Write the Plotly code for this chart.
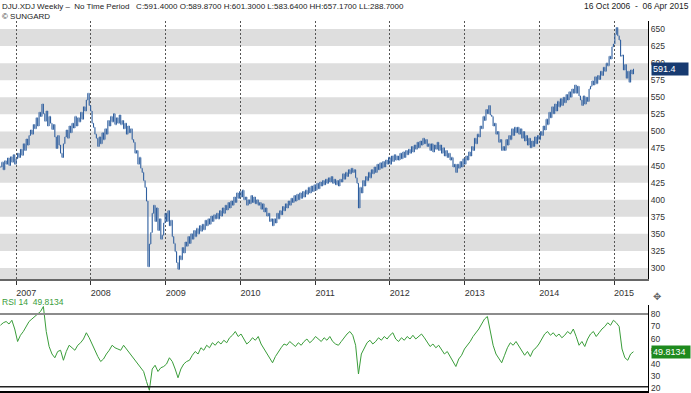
import plotly.graph_objects as go
import pandas as pd
import numpy as np

# ---- data ----
start_date = "2006-10-16"
# weekly closes
close = [
    448, 455, 444, 457, 452, 461, 450, 463, 455, 466, 452,
    460, 468, 462, 474, 465, 482, 472, 489, 480, 494,
    502, 496, 510, 504, 520, 508, 528, 522, 540, 526,
    515, 530, 508, 522, 512, 503, 510, 492, 475, 494,
    480, 468, 462, 482, 492, 502, 490, 508, 498, 512,
    505, 522, 508, 520, 514, 528, 518, 536, 530, 546,
    556, 538, 530, 512, 506, 496, 490, 478, 492, 482,
    498, 488, 504, 496, 516, 508, 522, 514, 526, 510,
    520, 512, 524, 510, 516, 504, 512, 496, 508, 498,
    504, 488, 484, 468, 472, 452, 462, 446, 440, 428,
    418, 398, 302, 335, 352, 380, 392, 368, 388, 355,
    372, 342, 348, 366, 380, 368, 384, 362, 370, 346,
    336, 324, 308, 298, 318, 312, 330, 322, 338, 332,
    346, 336, 350, 342, 355, 346, 358, 350, 362, 354,
    364, 356, 370, 362, 372, 364, 376, 368, 378, 372,
    380, 372, 384, 376, 388, 380, 392, 385, 396, 388,
    398, 392, 404, 396, 410, 402, 412, 404, 414, 400,
    404, 392, 400, 394, 406, 396, 404, 394, 400, 392,
    396, 386, 394, 382, 388, 376, 380, 368, 372, 362,
    372, 366, 380, 372, 384, 378, 390, 384, 394, 388,
    398, 392, 402, 396, 406, 398, 408, 400, 410, 402,
    412, 404, 414, 408, 418, 410, 420, 412, 422, 414,
    424, 416, 426, 420, 428, 422, 430, 424, 432, 426,
    434, 424, 430, 422, 428, 420, 430, 426, 438, 430,
    440, 434, 444, 438, 446, 440, 444, 432, 424, 388,
    418, 410, 428, 420, 434, 428, 440, 432, 444, 438,
    448, 440, 452, 444, 454, 446, 456, 448, 458, 452,
    462, 452, 464, 456, 466, 458, 464, 458, 468, 460,
    470, 462, 472, 466, 474, 468, 478, 470, 480, 474,
    484, 476, 486, 480, 490, 482, 488, 478, 482, 472,
    482, 470, 480, 474, 484, 472, 480, 468, 476, 464,
    472, 462, 468, 458, 462, 448, 452, 440, 452, 446,
    456, 448, 460, 452, 464, 458, 470, 464, 478, 472,
    490, 482, 496, 492, 508, 504, 522, 516, 532, 526,
    538, 524, 522, 508, 512, 496, 500, 484, 488, 472,
    478, 472, 488, 480, 494, 488, 504, 494, 506, 498,
    506, 496, 504, 490, 500, 486, 494, 480, 490, 476,
    486, 478, 492, 482, 494, 488, 500, 494, 508, 502,
    518, 510, 528, 520, 536, 526, 540, 530, 544, 536,
    548, 538, 550, 542, 554, 546, 558, 550, 562, 556,
    568, 556, 566, 552, 546, 538, 552, 540, 550, 544,
    562, 566, 574, 568, 580, 570, 582, 576, 588, 582,
    594, 588, 600, 596, 610, 606, 624, 628, 642, 652,
    640, 634, 610, 612, 590, 598, 578, 588, 572, 590, 584, 591.4,
]
# RSI(14), read every second week
rsi_vals = [
    71, 73, 74, 72, 75, 68, 58, 63, 66, 70,
    74, 76, 78, 80, 82, 86, 66, 54, 48, 45,
    50, 51, 43, 50, 55, 53, 51, 55, 57, 60,
    65, 61, 56, 50, 46, 42, 44, 48, 51, 55,
    53, 52, 51, 55, 52, 49, 46, 43, 40, 37,
    34, 26, 19, 36, 39, 34, 37, 38, 40, 45,
    42, 36, 29, 36, 40, 42, 43, 47, 50, 48,
    53, 51, 55, 53, 57, 55, 58, 56, 59, 57,
    61, 63, 66, 62, 64, 60, 56, 58, 61, 59,
    62, 56, 52, 48, 44, 41, 46, 50, 53, 56,
    55, 58, 56, 54, 57, 55, 58, 60, 57, 59,
    62, 60, 58, 61, 59, 62, 58, 56, 55, 58,
    61, 64, 66, 63, 55, 32, 48, 53, 57, 59,
    56, 58, 61, 59, 62, 60, 63, 65, 60, 58,
    61, 59, 62, 60, 63, 60, 62, 64, 61, 57,
    54, 56, 53, 55, 51, 48, 50, 46, 42, 38,
    44, 47, 52, 55, 58, 62, 65, 68, 72, 76,
    78, 66, 55, 48, 44, 41, 47, 53, 57, 55,
    58, 54, 50, 47, 50, 46, 51, 53, 56, 60,
    64, 66, 63, 65, 62, 64, 61, 63, 66, 64,
    68, 62, 55, 58, 54, 60, 64, 66, 62, 65,
    68, 70, 73, 71, 75, 73, 70, 52, 45, 43,
    48, 49.8134,
]
price_ticks = [300, 325, 350, 375, 400, 425, 450, 475, 500, 525, 550, 575, 600, 625, 650]
band_lows = [275, 325, 375, 425, 475, 525, 575, 625]
rsi_ticks = [30, 40, 50, 60, 70, 80]
rsi_bottom_tick = 20
last_price = 591.4
last_rsi = 49.8134
header = "DJU.XDJ Weekly –  No Time Period   C:591.4000 O:589.8700 H:601.3000 L:583.6400 HH:657.1700 LL:288.7000"
date_span = "16 Oct 2006  -  06 Apr 2015"

# ---- derived ----
dates = pd.date_range(start_date, periods=len(close), freq="7D")
c = np.array(close, dtype=float)
o = np.concatenate([[c[0]], c[:-1]])
h = np.maximum(o, c)
l = np.minimum(o, c)
rsi_dates = dates[::2][:len(rsi_vals)]

W, H = 691, 393
def py(p):
    return 1 - p / H

XR = 648 / W
x_range = ["2006-10-14", "2015-06-16"]
y_range = [283.9, 661.7]
r_range = [18.4, 87.2]

blue = "#2f5f9f"
green = "#3a9d3a"

fig = go.Figure()
fig.add_trace(go.Ohlc(
    x=dates, open=o, high=h, low=l, close=c,
    increasing=dict(line=dict(color=blue, width=1.1)),
    decreasing=dict(line=dict(color=blue, width=1.1)),
    tickwidth=0.3, xaxis="x", yaxis="y", showlegend=False, hoverinfo="skip",
))
fig.add_trace(go.Scatter(
    x=rsi_dates, y=rsi_vals, mode="lines", line=dict(color=green, width=1),
    xaxis="x2", yaxis="y2", showlegend=False, hoverinfo="skip",
))

shapes = []
for b in band_lows:
    shapes.append(dict(type="rect", xref="x domain", yref="y", x0=0, x1=1,
                       y0=max(b, y_range[0]), y1=b + 25, fillcolor="#dedede",
                       line=dict(width=0), layer="below"))
shapes.append(dict(type="line", xref="x2 domain", yref="y2", x0=0, x1=1, y0=80, y1=80,
                   line=dict(color="#8c8c8c", width=2)))
shapes.append(dict(type="line", xref="x2 domain", yref="y2", x0=0, x1=1, y0=21.8, y1=21.8,
                   line=dict(color="#222", width=1.5)))

fnt = "Liberation Sans"
ann = [
    dict(xref="paper", yref="paper", x=0, y=py(6), xanchor="left", yanchor="middle",
         text=header, showarrow=False, font=dict(family=fnt, size=8, color="#222")),
    dict(xref="paper", yref="paper", x=0, y=py(16), xanchor="left", yanchor="middle",
         text="© SUNGARD", showarrow=False, font=dict(family=fnt, size=8, color="#222")),
    dict(xref="paper", yref="paper", x=1, y=py(6), xanchor="right", yanchor="middle",
         text=date_span, showarrow=False, font=dict(family=fnt, size=8.5, color="#222")),
    dict(xref="paper", yref="paper", x=0, y=py(302), xanchor="left", yanchor="middle",
         text="RSI 14  49.8134", showarrow=False, font=dict(family=fnt, size=8.5, color=green)),
    dict(xref="paper", yref="y", x=XR + 3 / W, y=last_price, xanchor="left", yanchor="middle",
         text="591.4", showarrow=False, bgcolor="#173a70", width=34, align="left",
         font=dict(family=fnt, size=9, color="white"), borderpad=1),
    dict(xref="paper", yref="y2", x=XR + 3 / W, y=last_rsi, xanchor="left", yanchor="middle",
         text="49.8134", showarrow=False, bgcolor="#1e8a1e", width=36, align="left",
         font=dict(family=fnt, size=9, color="white"), borderpad=1),
    dict(xref="paper", yref="y2", x=XR + 1 / W, y=rsi_bottom_tick + 0.6, xanchor="left",
         yanchor="middle", text=str(rsi_bottom_tick), showarrow=False,
         font=dict(family=fnt, size=8.5, color="#333")),
    dict(xref="paper", yref="paper", x=XR + 3 / W, y=py(296), xanchor="left", yanchor="middle",
         text="✥", showarrow=False, font=dict(size=10, color="#666")),
]

fig.update_layout(
    width=W, height=H, margin=dict(l=0, r=0, t=0, b=0),
    paper_bgcolor="white", plot_bgcolor="white",
    shapes=shapes, annotations=ann,
    xaxis=dict(domain=[0, XR], range=x_range, anchor="y", type="date",
               tick0="2007-01-01", dtick="M12", tickformat="%Y",
               ticks="outside", ticklen=4, tickcolor="#333",
               showline=True, linecolor="#666", linewidth=2,
               showgrid=True, gridcolor="#555", griddash="2px,2px", gridwidth=1,
               tickfont=dict(family=fnt, size=9, color="#333"),
               ticklabelshift=10, rangeslider=dict(visible=False), fixedrange=True),
    yaxis=dict(domain=[py(279), py(21)], range=y_range, anchor="x", side="right",
               tickvals=price_ticks, showgrid=False, zeroline=False,
               showline=True, linecolor="black", linewidth=1, ticks="",
               tickfont=dict(family=fnt, size=8.5, color="#333")),
    xaxis2=dict(domain=[0, XR], range=x_range, anchor="y2", type="date", matches="x",
                showticklabels=False, showgrid=False, ticks="",
                showline=True, linecolor="black", linewidth=1.5),
    yaxis2=dict(domain=[py(391), py(305)], range=r_range, anchor="x2", side="right",
                tickvals=rsi_ticks, showgrid=False, zeroline=False,
                showline=True, linecolor="black", linewidth=1, ticks="",
                tickfont=dict(family=fnt, size=8.5, color="#333")),
)

fig.write_html("out.html", config={"displayModeBar": False},
               post_script="document.body.style.margin='0';document.body.style.padding='0';document.body.style.overflow='hidden';")
